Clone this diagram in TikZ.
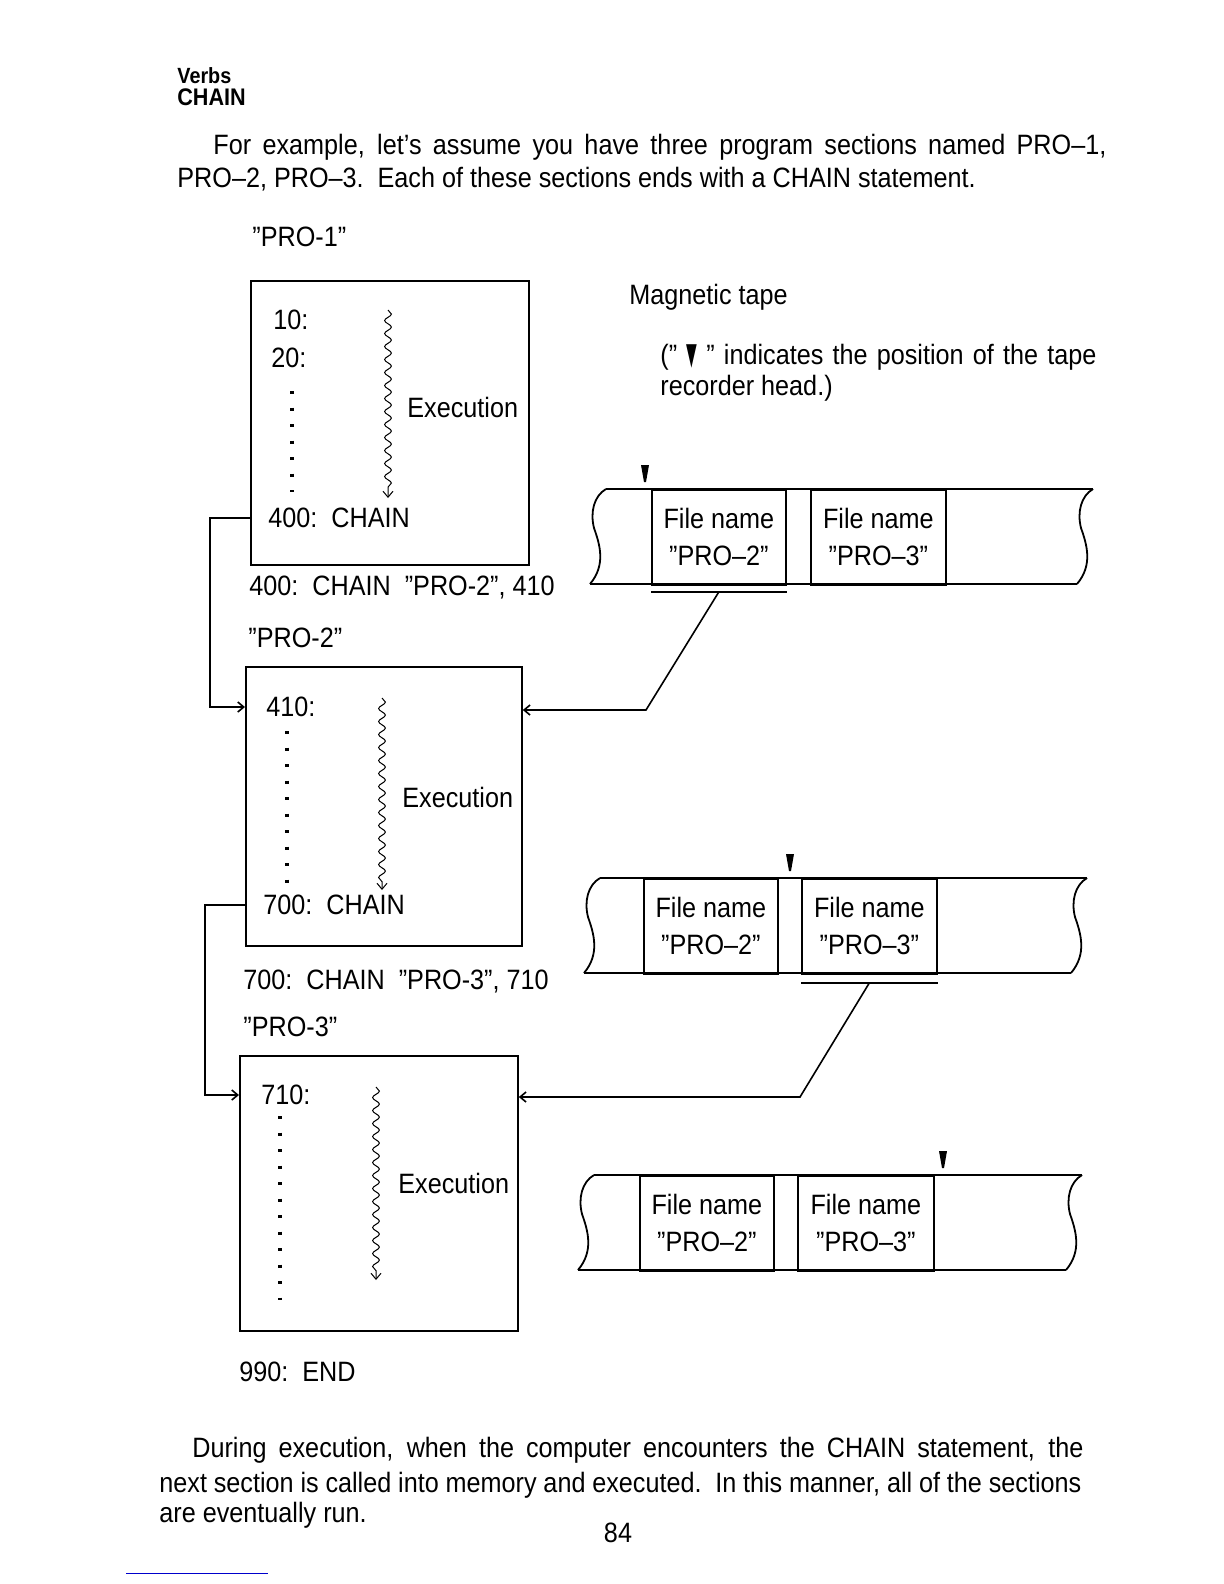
\documentclass[tikz,border=0pt]{standalone}
\usepackage{fontspec}
\setmainfont{Liberation Sans}[FakeStretch=0.9]
\newfontfamily\symfont{DejaVu Sans}
\usepackage{graphicx}
\usetikzlibrary{arrows.meta,decorations.pathmorphing}

\newcommand\headglyph{\scalebox{0.5}[1.1]{\symfont ▼}}

\begin{document}
\begin{tikzpicture}[
  x=0.5pt, y=-0.5pt,
  font=\fontsize{14}{17}\selectfont,
  txt/.style={anchor=west, inner sep=0pt},
  progbox/.style={draw, line width=0.9pt, anchor=north west, inner sep=0pt},
  cell/.style={draw, line width=0.9pt, anchor=north west, minimum height=47.5pt, inner sep=0pt, align=center, font=\fontsize{14}{18.5}\selectfont},
  tapeline/.style={line width=0.9pt},
  linedots/.style={line width=1.7pt, dash pattern=on 1.5pt off 6.75pt},
  wavy/.style={decorate, decoration={snake, amplitude=1.7pt, segment length=6.5pt, post length=3pt}, -{Straight Barb[length=3pt,width=5pt]}, line width=0.5pt},
  flow/.style={line width=0.8pt, -{Straight Barb[length=3pt,width=5pt]}},
  tapeend/.pic={\draw[line width=0.9pt] (0,0) .. controls (-12,7) and (-16,23) .. (-12,39) .. controls (-6,56) and (0,76) .. (-16,95);},
  headmark/.pic={\fill (-4,-24) -- (4,-24) -- (1,-7) -- (-1,-7) -- cycle;},
]
\fill[white] (0,0) rectangle (1224,1584);

% Header
\node[txt, font=\fontsize{11}{12}\selectfont\bfseries] (verbs) at (177,76) {Verbs};
\node[txt, font=\fontsize{12}{13}\selectfont\bfseries] (chainhead) at (177,97) {CHAIN};
\node[txt] (intro1) at (213,147) {\makebox[446.5pt][s]{For example, let's assume you have three program sections named PRO--1,}};
\node[txt] (intro2) at (177,179) {PRO--2, PRO--3.\ \ Each of these sections ends with a CHAIN statement.};

% Program PRO-1
\node[txt] (name1) at (252,237) {''PRO-1''};
\node[progbox, minimum width=139pt, minimum height=142pt] (prog1) at (250,280) {};
\node[txt] (l10) at (273,320) {10:};
\node[txt] (l20) at (271,358) {20:};
\draw[linedots] (292,391) -- (292,492);
\draw[wavy] (388,310) -- (388,498);
\node[txt] (exec1) at (407,407) {Execution};
\node[txt] (c400) at (268,518) {400:\ \ CHAIN};
\node[txt] (s400) at (249,588) {400:\ \ CHAIN\ \ ''PRO-2'', 410};

% Program PRO-2
\node[txt] (name2) at (248,638) {''PRO-2''};
\node[progbox, minimum width=138pt, minimum height=139.5pt] (prog2) at (245,666) {};
\node[txt] (l410) at (266,707) {410:};
\draw[linedots] (287,731) -- (287,884);
\draw[wavy] (382,698) -- (382,890);
\node[txt] (exec2) at (402,797) {Execution};
\node[txt] (c700) at (263,905) {700:\ \ CHAIN};
\node[txt] (s700) at (243,982) {700:\ \ CHAIN\ \ ''PRO-3'', 710};

% Program PRO-3
\node[txt] (name3) at (243,1027) {''PRO-3''};
\node[progbox, minimum width=139pt, minimum height=137.5pt] (prog3) at (239,1055) {};
\node[txt] (l710) at (261,1095) {710:};
\draw[linedots] (280,1116) -- (280,1300);
\draw[wavy] (376,1087) -- (376,1280);
\node[txt] (exec3) at (398,1183) {Execution};
\node[txt] (l990) at (239,1372) {990:\ \ END};

% Chain jumps
\draw[flow] (prog1.west |- c400) -- ++(-40,0) |- (prog2.west |- l410);
\draw[flow] (prog2.west |- c700) -- ++(-40,0) |- (prog3.west |- l710);

% Magnetic tape notes
\node[txt] (magtape) at (629,297) {Magnetic tape};
\node[txt] (note1) at (660,357) {\makebox[218pt][s]{(''\ \headglyph\ '' indicates the position of the tape}};
\node[txt] (note2) at (660,388) {recorder head.)};

% Tape 1
\draw[tapeline] (606,489) -- (1093,489);
\draw[tapeline] (590,584) -- (1077,584);
\pic at (606,489) {tapeend};
\pic at (1093,489) {tapeend};
\node[cell, minimum width=67pt] (tape1a) at (651,489) {File name\\''PRO--2''};
\node[cell, minimum width=67.5pt] (tape1b) at (810,489) {File name\\''PRO--3''};
\pic at (645,489) {headmark};

% Tape 2
\draw[tapeline] (600,878) -- (1087,878);
\draw[tapeline] (584,973) -- (1071,973);
\pic at (600,878) {tapeend};
\pic at (1087,878) {tapeend};
\node[cell, minimum width=67pt] (tape2a) at (643,878) {File name\\''PRO--2''};
\node[cell, minimum width=67.5pt] (tape2b) at (801,878) {File name\\''PRO--3''};
\pic at (790,878) {headmark};

% Tape 3
\draw[tapeline] (594,1175) -- (1082,1175);
\draw[tapeline] (578,1270) -- (1066,1270);
\pic at (594,1175) {tapeend};
\pic at (1082,1175) {tapeend};
\node[cell, minimum width=67pt] (tape3a) at (639,1175) {File name\\''PRO--2''};
\node[cell, minimum width=68pt] (tape3b) at (797,1175) {File name\\''PRO--3''};
\pic at (943,1175) {headmark};

% Loading into memory
\draw[tapeline] ([yshift=-3pt]tape1a.south west) -- ([yshift=-3pt]tape1a.south east);
\coordinate (ret1) at (646,710);
\draw[flow] ([yshift=-3pt]tape1a.south) -- (ret1) -- (prog2.east |- ret1);
\draw[tapeline] ([yshift=-4pt]tape2b.south west) -- ([yshift=-4pt]tape2b.south east);
\coordinate (ret2) at (800,1097);
\draw[flow] ([yshift=-4pt]tape2b.south) -- (ret2) -- (prog3.east |- ret2);

% Closing text
\node[txt] (outro1) at (192,1450) {\makebox[445.5pt][s]{During execution, when the computer encounters the CHAIN statement, the}};
\node[txt] (outro2) at (159,1485) {\makebox[461pt][s]{next section is called into memory and executed.\ \ In this manner, all of the sections}};
\node[txt] (outro3) at (159,1515) {are eventually run.};
\node (pagenum) at (618,1533) {84};
\draw[blue!80!black, line width=0.5pt] (126,1573) -- (268,1573);
\end{tikzpicture}
\end{document}
